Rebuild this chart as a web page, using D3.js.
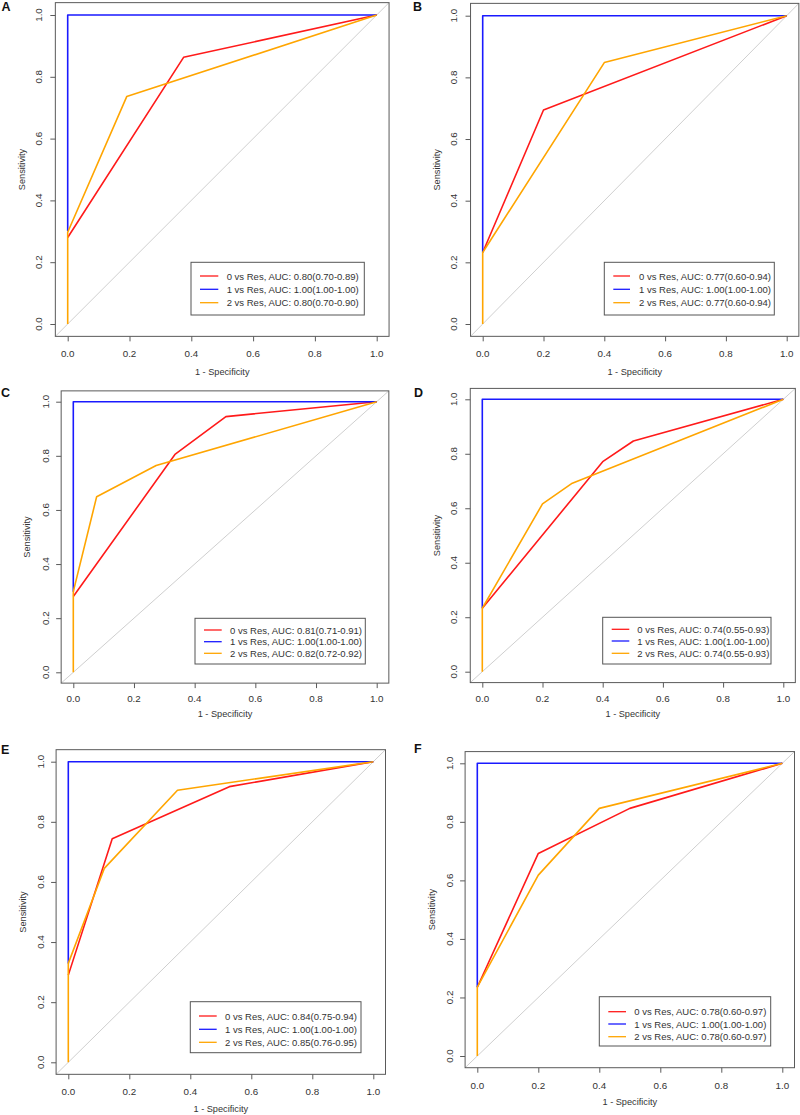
<!DOCTYPE html>
<html><head><meta charset="utf-8">
<script src="https://cdn.jsdelivr.net/npm/d3@7"></script>
<style>body{margin:0;background:#fff}svg{display:block}</style>
</head><body>
<svg id="chart" width="800" height="1115"></svg>
<script>
// ---------- data ----------
const panelIds = ["A","B","C","D","E","F"];
const ticks = [0, 0.2, 0.4, 0.6, 0.8, 1.0];
const seriesNames = ["0 vs Res", "1 vs Res", "2 vs Res"];
const xTitle = "1 - Specificity";
const yTitle = "Sensitivity";

// ROC points: [1 - specificity, sensitivity] (visible parts)
const rocA0 = [[0,0.28],[0.375,0.863],[1,1]];
const rocA1 = [[0,0.3],[0,1],[1,1]];
const rocA2 = [[0,0],[0,0.297],[0.191,0.736],[1,1]];
const aucA = ["0.80(0.70-0.89)", "1.00(1.00-1.00)", "0.80(0.70-0.90)"];

const rocB0 = [[0,0.232],[0.2,0.694],[1,1]];
const rocB1 = [[0,0.232],[0,1],[1,1]];
const rocB2 = [[0,0],[0,0.232],[0.4,0.848],[1,1]];
const aucB = ["0.77(0.60-0.94)", "1.00(1.00-1.00)", "0.77(0.60-0.94)"];

const rocC0 = [[0,0.28],[0.335,0.805],[0.503,0.945],[1,1]];
const rocC1 = [[0,0.298],[0,1],[1,1]];
const rocC2 = [[0,0],[0,0.298],[0.077,0.649],[0.273,0.764],[1,1]];
const aucC = ["0.81(0.71-0.91)", "1.00(1.00-1.00)", "0.82(0.72-0.92)"];

const rocD0 = [[0,0.233],[0.4,0.771],[0.502,0.847],[1,1]];
const rocD1 = [[0,0.233],[0,1],[1,1]];
const rocD2 = [[0,0],[0,0.233],[0.2,0.616],[0.299,0.692],[1,1]];
const aucD = ["0.74(0.55-0.93)", "1.00(1.00-1.00)", "0.74(0.55-0.93)"];

const rocE0 = [[0,0.29],[0.144,0.744],[0.528,0.917],[1,1]];
const rocE1 = [[0,0.329],[0,1],[1,1]];
const rocE2 = [[0,0],[0,0.329],[0.118,0.645],[0.358,0.905],[1,1]];
const aucE = ["0.84(0.75-0.94)", "1.00(1.00-1.00)", "0.85(0.76-0.95)"];

const rocF0 = [[0,0.235],[0.2,0.692],[0.5,0.846],[1,1]];
const rocF1 = [[0,0.235],[0,1],[1,1]];
const rocF2 = [[0,0],[0,0.235],[0.2,0.618],[0.4,0.846],[1,1]];
const aucF = ["0.78(0.60-0.97)", "1.00(1.00-1.00)", "0.78(0.60-0.97)"];

const rocData = [[rocA0,rocA1,rocA2],[rocB0,rocB1,rocB2],[rocC0,rocC1,rocC2],
                 [rocD0,rocD1,rocD2],[rocE0,rocE1,rocE2],[rocF0,rocF1,rocF2]];
const aucData = [aucA, aucB, aucC, aucD, aucE, aucF];

// ---------- layout (pixels) ----------
const colors = ["#ff1a1a", "#1a1aff", "#ffa500"];
const layout = [
  {x0:67.7, x1:376.7, y0:324,   y1:15,    yTickX:38.3,  yTitleX:21.7,  xTickY:353.3, xTitleY:372,   lab:[1.5,11],
   leg:[191,262.3,364.3,315],   rows:[276,289.3,302.7], line:[200,218.3], tx:226.7},
  {x0:482.7,x1:786.7, y0:324,   y1:15.7,  yTickX:453.3, yTitleX:436.7, xTickY:353.3, xTitleY:372,   lab:[413,11],
   leg:[604.3,262.3,774.3,315], rows:[276,289.3,302.7], line:[613.3,630], tx:639},
  {x0:73.3, x1:376.7, y0:672.3, y1:401.7, yTickX:45,    yTitleX:26.7,  xTickY:698.3, xTitleY:714,   lab:[1,397],
   leg:[195,618.3,365.3,664],   rows:[630,641.7,653.3], line:[204,221.7], tx:230},
  {x0:482.3,x1:783.3, y0:671.7, y1:399.3, yTickX:453.3, yTitleX:436.7, xTickY:698.3, xTitleY:714,   lab:[414,397],
   leg:[602.7,617.3,771,664],   rows:[629.3,641,653.3], line:[611.7,629.3], tx:637.3},
  {x0:68.3, x1:373.3, y0:1062.3,y1:761.7, yTickX:40,    yTitleX:22.7,  xTickY:1091.7,xTitleY:1109.3,lab:[1,754],
   leg:[190.3,1001.7,361,1052.7],rows:[1016,1029.3,1042.3], line:[199,216.7], tx:225},
  {x0:477.3,x1:782.3, y0:1056,  y1:763.3, yTickX:449.3, yTitleX:432.3, xTickY:1085,  xTitleY:1101.7,lab:[414,753],
   leg:[599.3,996.7,770.7,1046], rows:[1011.7,1024,1036.7], line:[608.3,626], tx:634.3}
];

const svg = d3.select("#chart");
const font = "'Liberation Sans', Arial, sans-serif";

panelIds.forEach((id, i) => {
  const L = layout[i];
  const x = d3.scaleLinear().domain([0,1]).range([L.x0, L.x1]);
  const y = d3.scaleLinear().domain([0,1]).range([L.y0, L.y1]);
  const g = svg.append("g");
  const bx0 = x(-0.04), bx1 = x(1.04), by0 = y(-0.04), by1 = y(1.04);

  // diagonal reference
  g.append("line").attr("x1", bx0).attr("y1", by0).attr("x2", bx1).attr("y2", by1)
    .attr("stroke", "#cfcfcf").attr("stroke-width", 1);

  // curves
  const line = d3.line().x(d => x(d[0])).y(d => y(d[1]));
  rocData[i].forEach((pts, k) => {
    g.append("path").attr("d", line(pts)).attr("fill", "none")
      .attr("stroke", colors[k]).attr("stroke-width", 1.6).attr("stroke-linejoin", "round");
  });

  // box
  g.append("rect").attr("x", bx0).attr("y", by1).attr("width", bx1 - bx0).attr("height", by0 - by1)
    .attr("fill", "none").attr("stroke", "#5a5a5a").attr("stroke-width", 1);

  // axes
  const xa = g.append("g").attr("transform", `translate(0,${by0})`)
    .call(d3.axisBottom(x).tickValues(ticks).tickSize(5).tickFormat(d3.format(".1f")));
  const ya = g.append("g").attr("transform", `translate(${bx0},0)`)
    .call(d3.axisLeft(y).tickValues(ticks).tickSize(5).tickFormat(d3.format(".1f")));
  [xa, ya].forEach(a => {
    a.select(".domain").remove();
    a.selectAll(".tick line").attr("stroke", "#5a5a5a");
    a.selectAll(".tick text").remove();
  });
  ticks.forEach(t => {
    g.append("text").attr("x", x(t)).attr("y", L.xTickY).attr("text-anchor", "middle")
      .attr("dominant-baseline", "central").attr("font-family", font).attr("font-size", 9.8)
      .attr("fill", "#333").text(d3.format(".1f")(t));
    g.append("text").attr("transform", `translate(${L.yTickX},${y(t)}) rotate(-90)`)
      .attr("text-anchor", "middle").attr("dominant-baseline", "central")
      .attr("font-family", font).attr("font-size", 9.8).attr("fill", "#333").text(d3.format(".1f")(t));
  });

  // axis titles
  g.append("text").attr("x", (L.x0 + L.x1) / 2).attr("y", L.xTitleY).attr("text-anchor", "middle")
    .attr("dominant-baseline", "central").attr("font-family", font).attr("font-size", 9.2)
    .attr("fill", "#333").text(xTitle);
  g.append("text").attr("transform", `translate(${L.yTitleX},${(L.y0 + L.y1) / 2}) rotate(-90)`)
    .attr("text-anchor", "middle").attr("dominant-baseline", "central")
    .attr("font-family", font).attr("font-size", 9.2).attr("fill", "#333").text(yTitle);

  // panel label
  g.append("text").attr("x", L.lab[0]).attr("y", L.lab[1]).attr("font-family", font)
    .attr("font-weight", "bold").attr("font-size", 12.5).attr("fill", "#111").text(id);

  // legend
  const [lx0, ly0, lx1, ly1] = L.leg;
  g.append("rect").attr("x", lx0).attr("y", ly0).attr("width", lx1 - lx0).attr("height", ly1 - ly0)
    .attr("fill", "#fff").attr("stroke", "#555").attr("stroke-width", 1);
  seriesNames.forEach((name, k) => {
    const ry = L.rows[k];
    g.append("line").attr("x1", L.line[0]).attr("x2", L.line[1]).attr("y1", ry).attr("y2", ry)
      .attr("stroke", colors[k]).attr("stroke-width", 1.3);
    g.append("text").attr("x", L.tx).attr("y", ry).attr("dominant-baseline", "central")
      .attr("font-family", font).attr("font-size", 9.5).attr("fill", "#333")
      .text(`${name}, AUC: ${aucData[i][k]}`);
  });
});
</script>
</body></html>
